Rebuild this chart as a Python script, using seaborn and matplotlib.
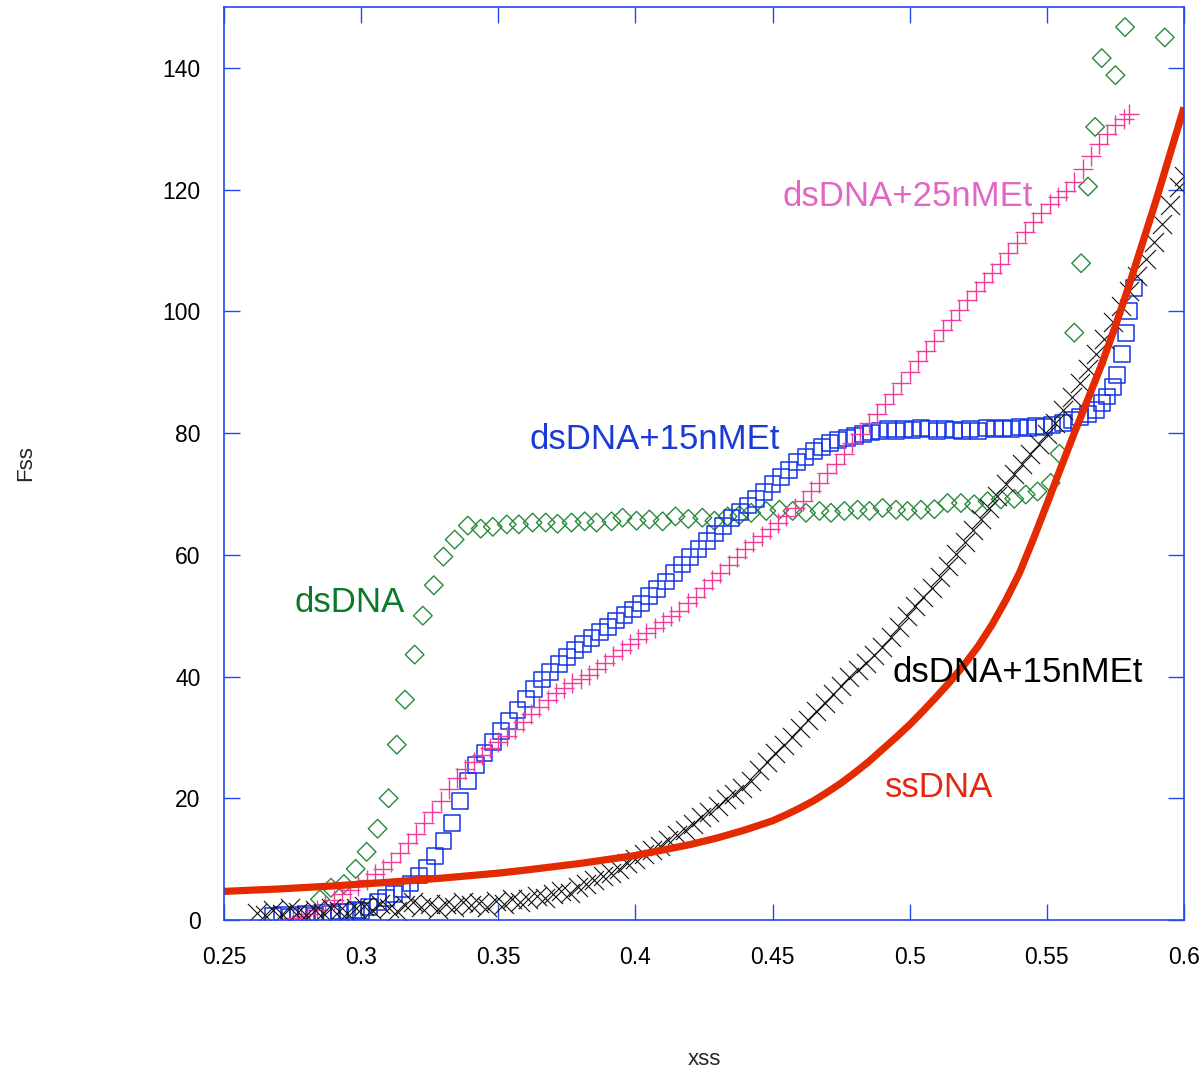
import matplotlib
matplotlib.use("Agg")
import matplotlib.pyplot as plt
import seaborn as sns
import pandas as pd

# ---------------- data ----------------
# dsDNA (green diamonds)
ds_x = [0.285, 0.289, 0.2937, 0.298, 0.302, 0.306, 0.310, 0.313, 0.316, 0.3195,
        0.3225, 0.3265, 0.330, 0.3341, 0.3389, 0.3436, 0.348, 0.3531, 0.3575, 0.3625,
        0.3673, 0.3716, 0.3767, 0.3815, 0.3858, 0.3913, 0.3953, 0.4004, 0.4051, 0.4099,
        0.4146, 0.4193, 0.4244, 0.4288, 0.4336, 0.4379, 0.4422, 0.4477, 0.4525, 0.4573,
        0.4622, 0.4671, 0.4713, 0.4762, 0.481, 0.4853, 0.4901, 0.495, 0.4992, 0.5041,
        0.509, 0.5138, 0.5187, 0.5235, 0.5284, 0.5332, 0.5381, 0.5423, 0.5466, 0.5514,
        0.5546, 0.560, 0.5625, 0.565, 0.5676, 0.570, 0.575, 0.5785, 0.593]
ds_y = [3.4, 5.3, 5.9, 8.4, 11.2, 15.0, 20.0, 28.8, 36.2, 43.6,
        50.0, 55.0, 59.7, 62.5, 64.8, 64.3, 64.6, 65.0, 65.0, 65.3,
        65.3, 65.1, 65.3, 65.5, 65.3, 65.5, 66.1, 65.6, 65.8, 65.5,
        66.3, 65.9, 66.1, 65.6, 66.3, 66.5, 66.9, 67.2, 67.4, 67.2,
        66.9, 67.2, 66.9, 67.2, 67.4, 67.2, 67.7, 67.4, 67.2, 67.4,
        67.5, 68.5, 68.5, 68.3, 68.8, 69.1, 69.2, 69.9, 70.4, 71.8,
        76.6, 96.5, 107.9, 120.5, 130.3, 141.6, 138.8, 146.7, 145.0]

# dsDNA+15nMEt (blue squares)
b15_x = [0.268, 0.271, 0.274, 0.277, 0.280, 0.283, 0.286, 0.289, 0.292, 0.295,
         0.298, 0.300, 0.303, 0.306, 0.309, 0.312, 0.315, 0.318, 0.321, 0.324,
         0.327, 0.330, 0.333, 0.336, 0.339, 0.342, 0.345, 0.348, 0.351, 0.354,
         0.357, 0.360, 0.363, 0.366, 0.369, 0.372, 0.375, 0.378, 0.381, 0.384,
         0.387, 0.390, 0.393, 0.396, 0.399, 0.402, 0.405, 0.408, 0.411, 0.414,
         0.417, 0.420, 0.423, 0.426, 0.429, 0.432, 0.435, 0.438, 0.441, 0.444,
         0.447, 0.450, 0.453, 0.456, 0.459, 0.462, 0.465, 0.468, 0.471, 0.474,
         0.477, 0.480, 0.483, 0.486, 0.489, 0.492, 0.495, 0.498, 0.501, 0.504,
         0.507, 0.510, 0.513, 0.516, 0.519, 0.522, 0.525, 0.528, 0.531, 0.534,
         0.537, 0.540, 0.543, 0.546, 0.549, 0.552, 0.556, 0.559, 0.562, 0.565,
         0.568, 0.570, 0.572, 0.574, 0.5756, 0.5775, 0.579, 0.580, 0.5818]
b15_y = [0.6, 0.8, 0.5, 0.9, 1.0, 0.7, 1.2, 1.0, 1.4, 1.3,
         1.7, 1.5, 2.2, 3.0, 3.6, 4.3, 5.0, 6.0, 7.3, 8.6,
         10.5, 13.0, 16.0, 19.5, 22.8, 25.4, 27.5, 29.3, 31.0, 32.7,
         34.5, 36.3, 38.0, 39.5, 40.8, 42.0, 43.2, 44.3, 45.3, 46.3,
         47.3, 48.2, 49.2, 50.1, 51.0, 52.0, 53.2, 54.4, 55.6, 57.0,
         58.4, 59.7, 61.0, 62.3, 63.5, 64.8, 66.0, 67.1, 68.1, 69.1,
         70.3, 71.6, 72.8, 74.0, 75.2, 76.1, 77.0, 77.7, 78.3, 78.8,
         79.2, 79.5, 79.8, 80.1, 80.3, 80.6, 80.4, 80.7, 80.5, 80.8,
         80.6, 80.4, 80.7, 80.5, 80.3, 80.6, 80.4, 80.8, 80.6, 80.9,
         80.7, 81.0, 80.8, 81.1, 81.0, 81.3, 81.6, 82.2, 82.6, 83.2,
         83.8, 85.0, 86.0, 87.5, 89.5, 93.0, 96.5, 100.0, 103.8]

# dsDNA+25nMEt (pink plus)
p25_x = [0.275, 0.278, 0.281, 0.284, 0.287, 0.290, 0.293, 0.296, 0.299, 0.302,
         0.305, 0.308, 0.311, 0.314, 0.317, 0.320, 0.323, 0.326, 0.329, 0.332,
         0.335, 0.338, 0.341, 0.344, 0.347, 0.350, 0.353, 0.356, 0.359, 0.362,
         0.365, 0.368, 0.371, 0.374, 0.377, 0.380, 0.383, 0.386, 0.389, 0.392,
         0.395, 0.398, 0.401, 0.404, 0.407, 0.410, 0.413, 0.416, 0.419, 0.422,
         0.425, 0.428, 0.431, 0.434, 0.437, 0.440, 0.443, 0.446, 0.449, 0.452,
         0.455, 0.458, 0.461, 0.464, 0.467, 0.470, 0.473, 0.476, 0.479, 0.482,
         0.485, 0.488, 0.491, 0.494, 0.497, 0.500, 0.503, 0.506, 0.509, 0.512,
         0.515, 0.518, 0.521, 0.524, 0.527, 0.530, 0.533, 0.536, 0.539, 0.542,
         0.545, 0.548, 0.551, 0.554, 0.557, 0.560, 0.563, 0.566, 0.569, 0.572,
         0.575, 0.578, 0.580]
p25_y = [0.3, 0.6, 1.0, 1.6, 2.4, 3.3, 4.2, 4.9, 5.6, 6.5,
         7.5, 8.4, 9.5, 11.0, 12.6, 14.2, 16.0, 17.8, 19.6, 21.5,
         23.4, 24.8, 26.0, 27.1, 28.2, 29.2, 30.3, 31.4, 32.6, 33.8,
         35.0, 36.2, 37.3, 38.1, 38.9, 39.6, 40.3, 41.2, 42.2, 43.3,
         44.4, 45.4, 46.2, 47.1, 48.0, 49.0, 49.9, 50.8, 52.0, 53.1,
         54.5, 55.8, 57.0, 58.4, 59.7, 61.0, 62.1, 63.1, 64.2, 65.3,
         66.3, 67.7, 68.8, 70.4, 71.8, 73.4, 75.0, 76.5, 78.3, 79.9,
         81.6, 83.2, 84.8, 86.4, 88.3, 90.0, 91.9, 93.5, 95.2, 97.0,
         98.6, 100.3, 101.9, 103.3, 104.8, 106.3, 107.8, 109.6, 111.3, 113.0,
         114.6, 116.2, 117.6, 118.8, 119.8, 121.3, 123.4, 125.6, 127.5, 129.2,
         130.6, 131.6, 132.5]

# dsDNA+15nMEt (black x)
k15_x = [0.262, 0.265, 0.268, 0.271, 0.274, 0.277, 0.280, 0.283, 0.286, 0.289,
         0.292, 0.295, 0.298, 0.301, 0.304, 0.307, 0.310, 0.313, 0.316, 0.319,
         0.322, 0.325, 0.328, 0.331, 0.334, 0.337, 0.340, 0.343, 0.346, 0.349,
         0.352, 0.355, 0.358, 0.361, 0.364, 0.367, 0.370, 0.373, 0.376, 0.379,
         0.382, 0.385, 0.388, 0.391, 0.394, 0.397, 0.400, 0.403, 0.406, 0.409,
         0.412, 0.415, 0.418, 0.421, 0.424, 0.427, 0.430, 0.433, 0.436, 0.439,
         0.442, 0.445, 0.448, 0.451, 0.454, 0.457, 0.460, 0.463, 0.466, 0.469,
         0.472, 0.475, 0.478, 0.481, 0.484, 0.487, 0.490, 0.493, 0.496, 0.499,
         0.502, 0.505, 0.508, 0.511, 0.514, 0.517, 0.520, 0.523, 0.526, 0.529,
         0.532, 0.535, 0.538, 0.541, 0.544, 0.547, 0.550, 0.553, 0.556, 0.559,
         0.562, 0.565, 0.568, 0.571, 0.574, 0.577, 0.580, 0.583, 0.586, 0.589,
         0.592, 0.595, 0.598, 0.600]
k15_y = [1.2, 0.8, 1.6, 1.0, 1.9, 1.3, 0.9, 1.7, 1.2, 2.0,
         1.4, 1.1, 1.9, 2.3, 1.6, 2.6, 2.0, 1.5, 2.4, 2.9,
         2.1, 2.6, 1.8, 2.7, 2.2, 3.0, 2.4, 2.8, 2.2, 3.2,
         2.7, 3.5, 3.0, 3.4, 3.9, 3.6, 4.3, 4.8, 4.5, 5.4,
         5.9, 6.5, 7.2, 7.8, 8.4, 9.3, 10.0, 10.8, 11.5, 12.2,
         13.1, 14.0, 14.8, 15.8, 16.9, 17.8, 18.8, 19.8, 20.7, 21.7,
         22.9, 24.6, 26.0, 27.4, 28.7, 30.1, 31.5, 32.9, 34.3, 35.7,
         37.1, 38.5, 39.9, 41.1, 42.2, 43.5, 44.9, 46.5, 48.2, 49.9,
         51.6, 53.0, 54.5, 56.3, 58.2, 60.1, 62.1, 64.0, 65.9, 67.7,
         69.7, 71.6, 73.3, 75.0, 76.6, 78.2, 79.8, 81.7, 83.8, 86.0,
         88.3, 90.6, 93.0, 95.5, 98.2, 100.9, 103.3, 105.8, 108.6, 111.4,
         114.3, 117.4, 120.4, 122.2]

# ssDNA (red curve)
ss_x = [0.25, 0.27, 0.29, 0.31, 0.33, 0.35, 0.36, 0.38, 0.40, 0.42,
        0.43, 0.44, 0.45, 0.455, 0.46, 0.465, 0.47, 0.475, 0.48, 0.485,
        0.49, 0.495, 0.50, 0.505, 0.51, 0.515, 0.52, 0.525, 0.53, 0.535,
        0.54, 0.545, 0.55, 0.555, 0.56, 0.565, 0.57, 0.575, 0.58, 0.585,
        0.59, 0.595, 0.60]
ss_y = [4.7, 5.1, 5.6, 6.2, 6.9, 7.7, 8.2, 9.3, 10.6, 12.4,
        13.5, 14.8, 16.3, 17.3, 18.4, 19.6, 21.0, 22.5, 24.2, 26.0,
        28.0, 30.0, 32.1, 34.4, 36.8, 39.3, 42.0, 45.0, 48.5, 52.5,
        57.0, 62.5, 68.3, 74.2, 80.0, 85.6, 91.3, 97.6, 104.3, 111.4,
        118.5, 126.0, 133.5]

x_ticks = [0.25, 0.3, 0.35, 0.4, 0.45, 0.5, 0.55, 0.6]
x_tick_labels = ["0.25", "0.3", "0.35", "0.4", "0.45", "0.5", "0.55", "0.6"]
y_ticks = [0, 20, 40, 60, 80, 100, 120, 140]
y_tick_labels = ["0", "20", "40", "60", "80", "100", "120", "140"]

labels = ["dsDNA+25nMEt", "dsDNA+15nMEt", "dsDNA", "dsDNA+15nMEt", "ssDNA"]
label_x = [0.4991, 0.407, 0.2959, 0.5392, 0.5108]
label_y = [118.8, 79.0, 52.1, 40.6, 21.7]
label_colors = ["#e266c4", "#1a3ad6", "#0b7a28", "#000000", "#e22a10"]

# ---------------- style ----------------
sns.set_theme(style="white")
plt.rcParams["font.family"] = ["Liberation Sans", "DejaVu Sans"]
frame_col = "#2448f0"

fig = plt.figure(figsize=(12.03, 10.70), dpi=100)
ax = fig.add_axes([224 / 1203, 1 - 920 / 1070, (1184 - 224) / 1203, (920 - 7) / 1070])

df_ds = pd.DataFrame({"x": ds_x, "y": ds_y})
df_b = pd.DataFrame({"x": b15_x, "y": b15_y})
df_p = pd.DataFrame({"x": p25_x, "y": p25_y})
df_k = pd.DataFrame({"x": k15_x, "y": k15_y})
df_s = pd.DataFrame({"x": ss_x, "y": ss_y})

def hollow(data, marker, s, col, lw):
    sns.scatterplot(data=data, x="x", y="y", marker=marker, s=s, ax=ax, legend=False)
    pc = ax.collections[-1]
    pc.set_facecolor("none")
    pc.set_edgecolor(col)
    pc.set_linewidth(lw)

hollow(df_ds, "D", 90, "#2a8a3c", 1.0)
hollow(df_b, "s", 130, "#1434e6", 1.1)
sns.scatterplot(data=df_p, x="x", y="y", marker="+", s=190, color="#f23c9c",
                linewidth=1.0, ax=ax, legend=False)
sns.scatterplot(data=df_k, x="x", y="y", marker="x", s=190, color="#111111",
                linewidth=0.8, ax=ax, legend=False)
sns.lineplot(data=df_s, x="x", y="y", color="#e42a00", lw=5.2, sort=False,
             estimator=None, ax=ax, legend=False, solid_capstyle="butt",
             solid_joinstyle="round")

for t, lx, ly, c in zip(labels, label_x, label_y, label_colors):
    ax.text(lx, ly, t, color=c, fontsize=25, ha="center", va="center")

ax.set_xlim(0.25, 0.6)
ax.set_ylim(0, 150)
ax.set_xticks(x_ticks)
ax.set_xticklabels(x_tick_labels)
ax.set_yticks(y_ticks)
ax.set_yticklabels(y_tick_labels)
ax.tick_params(direction="in", length=11.5, width=1.0, color=frame_col,
               labelcolor="black", labelsize=16.5, top=True, right=True,
               bottom=True, left=True)
ax.tick_params(axis="x", pad=19)
ax.tick_params(axis="y", pad=17)
for sp in ax.spines.values():
    sp.set_color(frame_col)
    sp.set_linewidth(1.2)
    sp.set_visible(True)

ax.set_xlabel("xss", fontsize=16)
ax.set_ylabel("Fss", fontsize=16)
ax.xaxis.set_label_coords(0.5, -0.153)
ax.xaxis.label.set_va("center")
ax.yaxis.set_label_coords(-0.207, 0.5)
ax.yaxis.label.set_va("center")

fig.savefig("out.png", dpi=100)
